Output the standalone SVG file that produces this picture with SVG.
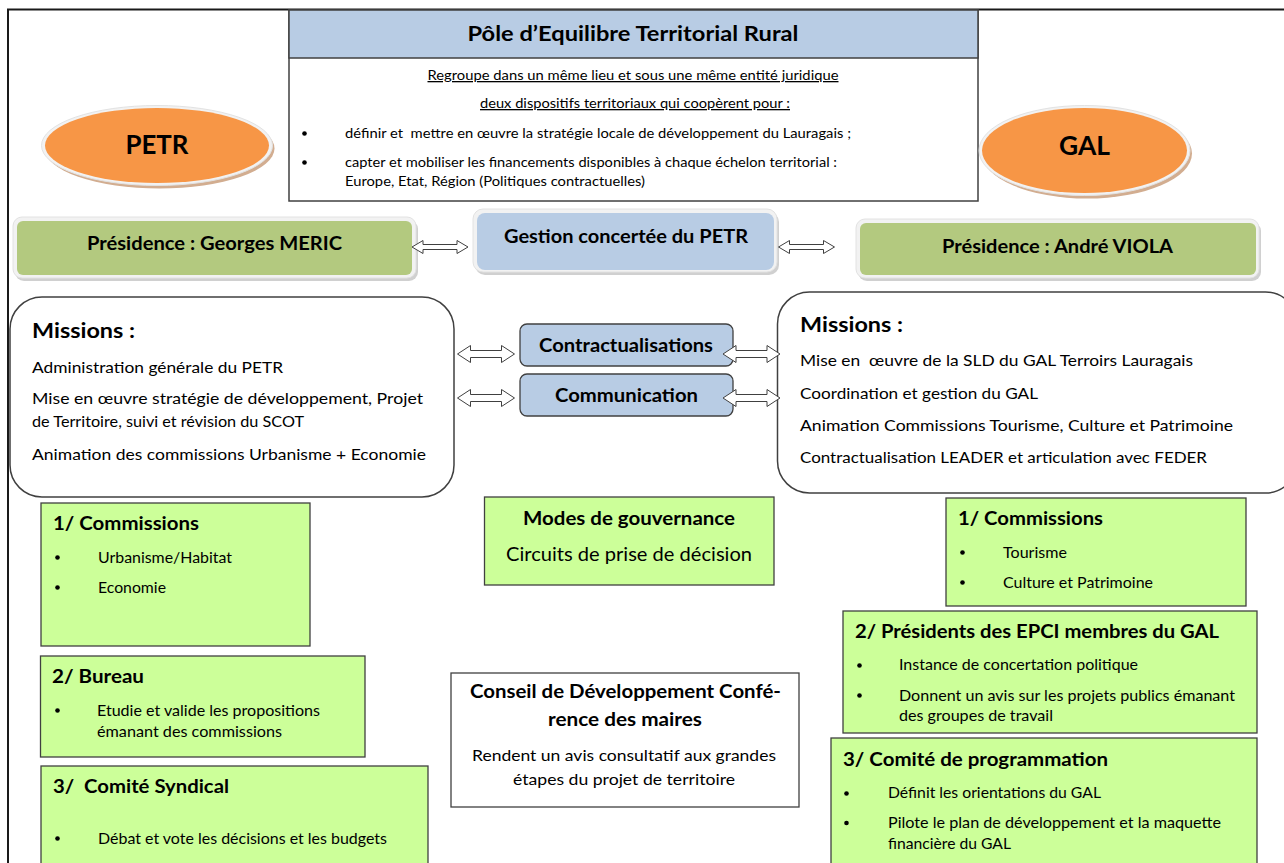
<svg xmlns="http://www.w3.org/2000/svg" xmlns:xlink="http://www.w3.org/1999/xlink" width="1284" height="863" viewBox="0 0 1284 863">
<style>
text{font-family:Lato,"Liberation Sans",sans-serif;fill:#000}
.pre{white-space:pre}
.b{font-weight:bold}
.c{text-anchor:middle}
.green{fill:#ccff99;stroke:#404040;stroke-width:1.3}
.white{fill:#fff;stroke:#404040;stroke-width:1.3}
.miss{fill:#fff;stroke:#404040;stroke-width:1.5}
.glow{fill:#f2f2f2;stroke:#e2e2e2;stroke-width:1}
.shadow{fill:#d0d0d0}
.pres{fill:#b3c97f}
.blue{fill:#b8cce4}
.bluebox{fill:#b8cce4;stroke:#404040;stroke-width:1.3}
.arr{fill:#fff;stroke:#404040;stroke-width:1}
.s15{font-size:15px}
.s16{font-size:16px}
.s13{font-size:13px}
.h19{font-size:19px;font-weight:bold}
</style>
<defs>
<path id="dblS" class="arr" d="M0,0 L11,-6.5 L11,-2.5 L45,-2.5 L45,-6.5 L56,0 L45,6.5 L45,2.5 L11,2.5 L11,6.5 Z"/>
<path id="dblL" class="arr" d="M0,0 L13,-8.5 L13,-3.5 L44,-3.5 L44,-8.5 L57,0 L44,8.5 L44,3.5 L13,3.5 L13,8.5 Z"/>
</defs>

<!-- outer frame -->
<path d="M8,863 L8,9.5 L1284,9.5" fill="none" stroke="#1a1a1a" stroke-width="2"/>

<!-- title box -->
<g id="title">
<rect x="289" y="10" width="689" height="191" fill="#fff" stroke="#404040" stroke-width="1.5"/>
<rect x="289" y="10" width="689" height="48" class="blue" stroke="#404040" stroke-width="1.5"/>
<text x="633" y="41" class="c b" font-size="21" textLength="331" lengthAdjust="spacingAndGlyphs">Pôle d’Equilibre Territorial Rural</text>
<text x="633" y="80" class="c s13" text-decoration="underline" textLength="411" lengthAdjust="spacingAndGlyphs">Regroupe dans un même lieu et sous une même entité juridique</text>
<text x="635" y="108" class="c s13" text-decoration="underline" textLength="310" lengthAdjust="spacingAndGlyphs">deux dispositifs territoriaux qui coopèrent pour :</text>
<circle cx="304.5" cy="133.5" r="2.3"/>
<text x="345" y="138" class="s13 pre" xml:space="preserve" textLength="506" lengthAdjust="spacingAndGlyphs">définir et  mettre en œuvre la stratégie locale de développement du Lauragais ;</text>
<circle cx="304.5" cy="162.5" r="2.3"/>
<text x="345" y="167" class="s13" textLength="492" lengthAdjust="spacingAndGlyphs">capter et mobiliser les financements disponibles à chaque échelon territorial :</text>
<text x="345" y="186" class="s13" textLength="300" lengthAdjust="spacingAndGlyphs">Europe, Etat, Région (Politiques contractuelles)</text>
</g>

<!-- PETR ellipse -->
<g id="petr">
<ellipse cx="159.5" cy="148.5" rx="115" ry="40" fill="#d2ad90"/>
<ellipse cx="157" cy="145.5" rx="115.5" ry="40" fill="#f2f2f2" stroke="#e2e2e2" stroke-width="1"/>
<ellipse cx="157" cy="145.5" rx="112" ry="37.5" fill="#f79646"/>
<text x="157" y="154" class="c b" font-size="27" textLength="63" lengthAdjust="spacingAndGlyphs">PETR</text>
</g>

<!-- GAL ellipse -->
<g id="gal">
<ellipse cx="1087" cy="153.5" rx="105" ry="45" fill="#d2ad90"/>
<ellipse cx="1084.5" cy="150.5" rx="105.5" ry="45" fill="#f2f2f2" stroke="#e2e2e2" stroke-width="1"/>
<ellipse cx="1084.5" cy="150.5" rx="102.5" ry="42.5" fill="#f79646"/>
<text x="1084.5" y="155" class="c b" font-size="27" textLength="51" lengthAdjust="spacingAndGlyphs">GAL</text>
</g>

<!-- Présidence left -->
<g id="pres-petr">
<rect x="15" y="220" width="403" height="61" rx="9" class="shadow"/>
<rect x="13" y="217" width="403" height="61" rx="9" class="glow"/>
<rect x="17" y="221" width="395" height="54" rx="6" class="pres"/>
<text x="214.5" y="250" class="c b" font-size="18" textLength="255" lengthAdjust="spacingAndGlyphs">Présidence : Georges MERIC</text>
</g>

<!-- Présidence right -->
<g id="pres-gal">
<rect x="858" y="222" width="403" height="59" rx="9" class="shadow"/>
<rect x="856" y="219" width="403" height="59" rx="9" class="glow"/>
<rect x="860" y="223" width="396" height="52" rx="6" class="pres"/>
<text x="1057.5" y="253" class="c b" font-size="18" textLength="231" lengthAdjust="spacingAndGlyphs">Présidence : André VIOLA</text>
</g>

<!-- Gestion concertée -->
<g id="gestion">
<rect x="475" y="212" width="304" height="63" rx="10" class="shadow"/>
<rect x="473" y="209" width="304" height="63" rx="10" class="glow"/>
<rect x="477" y="213" width="297" height="57" rx="8" class="blue"/>
<text x="626" y="243" class="c b" font-size="18" textLength="244" lengthAdjust="spacingAndGlyphs">Gestion concertée du PETR</text>
</g>

<!-- Missions left -->
<g id="missions-petr">
<rect x="10" y="297" width="444" height="200" rx="32" class="miss"/>
<text x="32" y="338" font-size="21" class="b" textLength="103" lengthAdjust="spacingAndGlyphs">Missions :</text>
<text x="32" y="373" class="s16" textLength="251" lengthAdjust="spacingAndGlyphs">Administration générale du PETR</text>
<text x="32" y="404" class="s16" textLength="391" lengthAdjust="spacingAndGlyphs">Mise en œuvre stratégie de développement, Projet</text>
<text x="32" y="427" class="s16" textLength="272" lengthAdjust="spacingAndGlyphs">de Territoire, suivi et révision du SCOT</text>
<text x="32" y="460" class="s16" textLength="394" lengthAdjust="spacingAndGlyphs">Animation des commissions Urbanisme + Economie</text>
</g>

<!-- Missions right -->
<g id="missions-gal">
<rect x="777.5" y="292" width="520" height="201" rx="32" class="miss"/>
<text x="800" y="332" font-size="21" class="b" textLength="103" lengthAdjust="spacingAndGlyphs">Missions :</text>
<text x="800" y="366" class="s16 pre" xml:space="preserve" textLength="393" lengthAdjust="spacingAndGlyphs">Mise en  œuvre de la SLD du GAL Terroirs Lauragais</text>
<text x="800" y="399" class="s16" textLength="238" lengthAdjust="spacingAndGlyphs">Coordination et gestion du GAL</text>
<text x="800" y="431" class="s16" textLength="433" lengthAdjust="spacingAndGlyphs">Animation Commissions Tourisme, Culture et Patrimoine</text>
<text x="800" y="463" class="s16" textLength="407" lengthAdjust="spacingAndGlyphs">Contractualisation LEADER et articulation avec FEDER</text>
</g>

<!-- Contractualisations / Communication -->
<g id="contractualisations">
<rect x="520" y="324" width="213" height="42" rx="7" class="bluebox"/>
<text x="626" y="352" class="c b" font-size="18" textLength="174" lengthAdjust="spacingAndGlyphs">Contractualisations</text>
</g>
<g id="communication">
<rect x="520" y="374" width="213" height="42" rx="7" class="bluebox"/>
<text x="626.5" y="402" class="c b" font-size="18" textLength="143" lengthAdjust="spacingAndGlyphs">Communication</text>
</g>

<!-- connectors -->
<g id="connectors">
<use xlink:href="#dblS" href="#dblS" transform="translate(412,247)"/>
<use xlink:href="#dblS" href="#dblS" transform="translate(778.5,247)"/>
<use xlink:href="#dblL" href="#dblL" transform="translate(457.5,354)"/>
<use xlink:href="#dblL" href="#dblL" transform="translate(457.5,398)"/>
<use xlink:href="#dblL" href="#dblL" transform="translate(723,354)"/>
<use xlink:href="#dblL" href="#dblL" transform="translate(723,398)"/>
</g>

<!-- left bottom boxes -->
<g id="petr-commissions">
<rect x="41" y="503" width="269" height="143" class="green"/>
<text x="53" y="530" class="h19" textLength="146" lengthAdjust="spacingAndGlyphs">1/ Commissions</text>
<circle cx="57.5" cy="557.5" r="2.3"/>
<text x="98" y="563" class="s15" textLength="134" lengthAdjust="spacingAndGlyphs">Urbanisme/Habitat</text>
<circle cx="57.5" cy="587.5" r="2.3"/>
<text x="98" y="593" class="s15" textLength="68" lengthAdjust="spacingAndGlyphs">Economie</text>
</g>
<g id="petr-bureau">
<rect x="40.5" y="656" width="324.5" height="101" class="green"/>
<text x="52" y="683" class="h19" textLength="92" lengthAdjust="spacingAndGlyphs">2/ Bureau</text>
<circle cx="57.5" cy="710.5" r="2.3"/>
<text x="97" y="716" class="s15" textLength="223" lengthAdjust="spacingAndGlyphs">Etudie et valide les propositions</text>
<text x="97" y="737" class="s15" textLength="185" lengthAdjust="spacingAndGlyphs">émanant des commissions</text>
</g>
<g id="petr-comite">
<rect x="41" y="766" width="387" height="110" class="green"/>
<text x="53" y="793" class="h19 pre" xml:space="preserve" textLength="176" lengthAdjust="spacingAndGlyphs">3/  Comité Syndical</text>
<circle cx="57.5" cy="838.5" r="2.3"/>
<text x="98" y="844" class="s15" textLength="289" lengthAdjust="spacingAndGlyphs">Débat et vote les décisions et les budgets</text>
</g>

<!-- middle -->
<g id="gouvernance">
<rect x="484.5" y="497" width="289.5" height="88" class="green"/>
<text x="629" y="525" class="c b" font-size="18" textLength="212" lengthAdjust="spacingAndGlyphs">Modes de gouvernance</text>
<text x="629" y="561" class="c" font-size="19" textLength="246" lengthAdjust="spacingAndGlyphs">Circuits de prise de décision</text>
</g>
<g id="conseil">
<rect x="451" y="673" width="348" height="134" class="white"/>
<text x="625.5" y="698" class="c b" font-size="18" textLength="311" lengthAdjust="spacingAndGlyphs">Conseil de Développement Confé-</text>
<text x="625" y="726" class="c b" font-size="18" textLength="154" lengthAdjust="spacingAndGlyphs">rence des maires</text>
<text x="624" y="761" class="c s16" textLength="304" lengthAdjust="spacingAndGlyphs">Rendent un avis consultatif aux grandes</text>
<text x="624" y="785" class="c s16" textLength="222" lengthAdjust="spacingAndGlyphs">étapes du projet de territoire</text>
</g>

<!-- right bottom boxes -->
<g id="gal-commissions">
<rect x="946" y="498" width="300" height="108" class="green"/>
<text x="958" y="525" class="h19" textLength="145" lengthAdjust="spacingAndGlyphs">1/ Commissions</text>
<circle cx="962.5" cy="552.5" r="2.3"/>
<text x="1003" y="558" class="s15" textLength="64" lengthAdjust="spacingAndGlyphs">Tourisme</text>
<circle cx="962.5" cy="582.5" r="2.3"/>
<text x="1003" y="588" class="s15" textLength="150" lengthAdjust="spacingAndGlyphs">Culture et Patrimoine</text>
</g>
<g id="gal-presidents">
<rect x="843" y="611" width="414" height="122" class="green"/>
<text x="855" y="638" class="h19" textLength="364" lengthAdjust="spacingAndGlyphs">2/ Présidents des EPCI membres du GAL</text>
<circle cx="859.5" cy="665.5" r="2.3"/>
<text x="899" y="670" class="s15" textLength="239" lengthAdjust="spacingAndGlyphs">Instance de concertation politique</text>
<circle cx="859.5" cy="695.5" r="2.3"/>
<text x="899" y="701" class="s15" textLength="336" lengthAdjust="spacingAndGlyphs">Donnent un avis sur les projets publics émanant</text>
<text x="899" y="721" class="s15" textLength="154" lengthAdjust="spacingAndGlyphs">des groupes de travail</text>
</g>
<g id="gal-comite">
<rect x="831" y="738" width="426" height="140" class="green"/>
<text x="843" y="766" class="h19" textLength="265" lengthAdjust="spacingAndGlyphs">3/ Comité de programmation</text>
<circle cx="846.5" cy="793.5" r="2.3"/>
<text x="888" y="798" class="s15" textLength="213" lengthAdjust="spacingAndGlyphs">Définit les orientations du GAL</text>
<circle cx="846.5" cy="823" r="2.3"/>
<text x="888" y="828" class="s15" textLength="333" lengthAdjust="spacingAndGlyphs">Pilote le plan de développement et la maquette</text>
<text x="888" y="849" class="s15" textLength="123" lengthAdjust="spacingAndGlyphs">financière du GAL</text>
</g>
</svg>
